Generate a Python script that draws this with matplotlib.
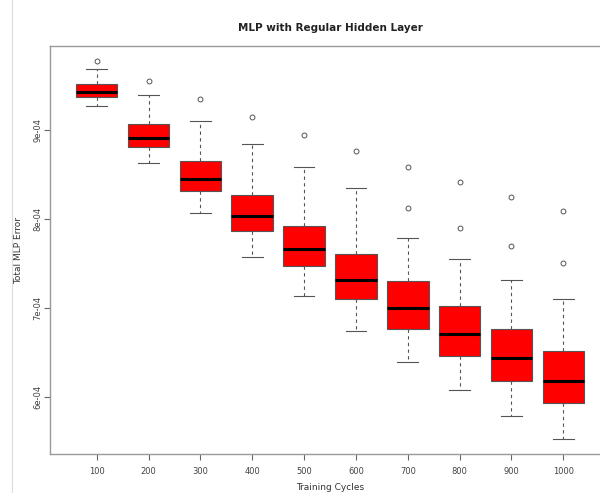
import matplotlib.pyplot as plt
from matplotlib.lines import Line2D

# training cycles and box statistics (units of 1e-4)
cycles = [100, 200, 300, 400, 500, 600, 700, 800, 900, 1000]
lower_whisker = [9.27, 8.629, 8.064, 7.573, 7.135, 6.742, 6.393, 6.075, 5.783, 5.521]
q1 = [9.368, 8.809, 8.311, 7.865, 7.465, 7.094, 6.761, 6.461, 6.180, 5.926]
median = [9.42, 8.903, 8.443, 8.027, 7.656, 7.311, 6.993, 6.704, 6.431, 6.180]
q3 = [9.513, 9.061, 8.645, 8.266, 7.918, 7.600, 7.297, 7.022, 6.757, 6.517]
upper_whisker = [9.685, 9.387, 9.101, 8.836, 8.581, 8.342, 7.783, 7.547, 7.315, 7.101]
outliers = [[9.772], [9.551], [9.342], [9.139], [8.944], [8.761],
            [8.581, 8.117], [8.409, 7.899], [8.244, 7.693], [8.083, 7.499]]

scale = 1e-4
stats = []
for i in range(len(cycles)):
    stats.append({
        "whislo": lower_whisker[i] * scale,
        "q1": q1[i] * scale,
        "med": median[i] * scale,
        "q3": q3[i] * scale,
        "whishi": upper_whisker[i] * scale,
        "fliers": [v * scale for v in outliers[i]],
    })

fig = plt.figure(figsize=(6, 4.93), dpi=100)
ax = fig.add_axes([50 / 600, 39 / 493, 560 / 600, 408 / 493])

positions = list(range(1, len(cycles) + 1))
ax.bxp(stats, positions=positions, widths=0.8, patch_artist=True,
       boxprops=dict(facecolor="#ff0000", edgecolor="#555555", linewidth=0.8),
       medianprops=dict(color="black", linewidth=2.2),
       whiskerprops=dict(color="#555555", linewidth=0.8, linestyle=(0, (3, 3))),
       capprops=dict(color="#555555", linewidth=0.8),
       capwidths=0.4,
       flierprops=dict(marker="o", markersize=3.5, markerfacecolor="none",
                       markeredgecolor="#555555", markeredgewidth=0.7))

ax.set_xlim(0.1, 10.9)
ax.set_ylim(5.356e-4, 9.94e-4)

ax.set_xticks(positions)
ax.set_xticklabels([str(c) for c in cycles])
yt = [6e-4, 7e-4, 8e-4, 9e-4]
ax.set_yticks(yt)
ax.set_yticklabels(["6e-04", "7e-04", "8e-04", "9e-04"], rotation=90, va="center")

for s in ax.spines.values():
    s.set_color("#999999")
    s.set_linewidth(1.0)
ax.tick_params(axis="both", colors="#666666", labelcolor="#444444",
               labelsize=6, length=4, width=0.8)
ax.tick_params(axis="x", pad=5)
ax.tick_params(axis="y", pad=1.5)

ax.set_title("MLP with Regular Hidden Layer", fontsize=7.5, fontweight="bold",
             color="#222222", pad=11)
ax.set_xlabel("Training Cycles", fontsize=6.5, color="#333333")
ax.set_ylabel("Total MLP Error", fontsize=6.5, color="#333333")
ax.xaxis.set_label_coords(0.5, -0.071)
ax.yaxis.set_label_coords(-0.048, 0.5)

# thin border line on the left side of the page
fig.add_artist(Line2D([12 / 600, 12 / 600], [0, 1], color="#dddddd", linewidth=0.8))

fig.savefig("out.png", dpi=100)
